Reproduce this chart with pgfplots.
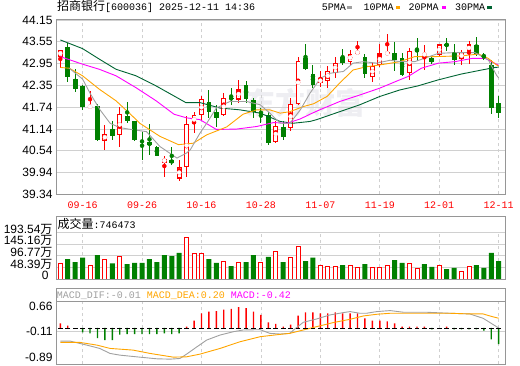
\documentclass[border=0pt]{standalone}
\usepackage{pgfplots}
\pgfplotsset{compat=1.18}
\usepackage{pgfplotstable}
\usepackage{fontspec}
\setmainfont{Liberation Sans}
\setmonofont{Liberation Mono}
\newfontfamily\cjk{Noto Sans CJK SC}
\definecolor{kred}{RGB}{255,0,0}
\definecolor{kgreen}{RGB}{0,128,0}
\definecolor{maA}{RGB}{160,160,160}
\definecolor{maB}{RGB}{255,165,0}
\definecolor{maC}{RGB}{255,0,255}
\definecolor{maD}{RGB}{0,100,50}
\definecolor{framec}{RGB}{150,150,150}
\definecolor{gridc}{RGB}{208,208,208}
\definecolor{wm}{RGB}{238,238,242}
\newcommand{\wan}{{\cjk\fontsize{12}{12}\selectfont 万}}

% red (up) candles: index open high low close
\pgfplotstableread{
i o h l c
0 43.14 43.33 42.82 43.32
4 41.75 42.19 41.74 41.77
6 40.83 41.26 40.55 41.00
8 40.98 41.76 40.64 41.55
14 40.23 40.41 39.83 40.31
16 39.79 40.29 39.72 40.09
17 40.11 41.51 39.83 41.26
18 41.30 41.62 41.03 41.51
19 41.53 42.04 41.40 41.95
22 41.53 42.13 41.50 41.99
24 41.97 42.50 41.85 42.24
29 40.80 41.35 40.75 41.21
31 41.17 41.99 41.10 41.81
32 41.85 43.14 41.81 43.00
35 42.42 42.74 42.31 42.53
36 42.49 42.88 42.28 42.73
37 42.71 43.13 42.54 42.96
39 43.01 43.31 42.91 43.21
40 43.24 43.58 43.22 43.26
42 42.59 43.00 42.45 42.87
43 42.91 43.50 42.86 43.23
44 43.22 43.77 43.19 43.24
47 42.69 43.38 42.50 43.27
49 43.19 43.46 42.78 43.21
51 43.20 43.50 43.14 43.46
54 43.08 43.32 42.92 43.25
55 43.30 43.57 42.93 43.46
}\redk
% green (down) candles
\pgfplotstableread{
i o h l c
1 43.40 43.52 42.45 42.57
2 42.52 42.79 42.15 42.24
3 42.33 42.36 41.67 41.76
5 41.78 41.82 40.82 40.84
7 41.14 41.35 40.83 40.94
9 41.51 41.90 41.30 41.35
10 41.35 41.37 40.80 40.83
11 40.81 41.07 40.29 40.79
12 40.77 41.28 40.43 40.69
13 40.64 40.66 40.40 40.41
15 40.29 40.64 40.16 40.20
20 41.90 42.22 41.44 41.62
21 41.62 41.81 41.21 41.44
23 42.00 42.27 41.81 41.97
25 42.36 42.48 41.85 41.97
26 41.93 41.99 41.44 41.62
27 41.60 41.72 41.30 41.58
28 41.53 41.62 40.69 40.75
30 41.21 41.35 40.83 40.92
33 43.09 43.49 42.77 42.80
34 42.67 42.90 42.28 42.36
38 43.13 43.34 42.91 42.95
41 43.12 43.21 42.54 42.67
45 43.24 43.55 42.75 43.04
46 43.09 43.24 42.60 42.64
48 43.34 43.65 43.02 43.28
50 43.10 43.16 42.94 42.98
52 43.47 43.64 43.29 43.45
53 43.28 43.50 42.90 43.04
56 43.46 43.67 43.17 43.22
57 43.17 43.23 43.05 43.14
58 42.92 43.05 41.55 41.72
59 41.87 42.04 41.44 41.58
}\greenk
% volume (10k shares)
\pgfplotstableread{
i v
0 65.6
4 58.5
6 83.6
8 94.9
17 174.2
18 107.3
19 107.3
22 73.9
24 69.7
27 69.7
29 115.7
31 92.0
32 137.9
35 58.5
36 54.3
37 54.3
39 58.5
40 50.2
42 50.2
43 50.2
44 58.5
47 66.9
48 46.0
51 58.5
54 33.4
55 54.3
}\redv
\pgfplotstableread{
i v
1 83.6
2 71.0
3 89.0
5 100.3
7 65.6
9 62.7
10 66.9
11 66.9
12 83.6
13 71.0
14 100.3
15 96.1
16 108.7
20 83.6
21 66.9
23 54.3
25 71.0
26 100.3
28 92.0
30 71.0
33 75.2
34 89.0
38 58.5
41 62.7
45 79.4
46 66.9
49 62.7
50 50.2
52 41.8
53 46.0
56 58.5
57 46.0
58 108.7
59 74.6
}\greenv
% MACD histogram
\pgfplotstableread{
i m
0 0.14
1 0.07
17 0.04
18 0.22
19 0.44
20 0.49
21 0.50
22 0.55
23 0.57
24 0.62
25 0.59
26 0.49
27 0.39
28 0.17
29 0.12
30 0.04
31 0.10
32 0.37
33 0.47
34 0.47
35 0.44
36 0.44
37 0.47
38 0.44
39 0.44
40 0.44
41 0.29
42 0.22
43 0.22
44 0.20
45 0.14
46 0.04
47 0.04
48 0.04
49 0.04
52 0.04
}\redm
\pgfplotstableread{
i m
3 -0.13
4 -0.16
5 -0.30
6 -0.36
7 -0.36
8 -0.20
9 -0.18
10 -0.18
11 -0.18
12 -0.18
13 -0.18
14 -0.16
15 -0.18
16 -0.16
50 -0.04
53 -0.04
54 -0.04
55 -0.04
56 -0.04
57 -0.08
58 -0.34
59 -0.48
}\greenm

\pgfplotsset{
  panel/.style={
    scale only axis, anchor=south west, width=449pt,
    xmin=-0.58, xmax=59.85,
    axis line style={draw=none},
    major tick length=0pt,
    xtick={3,11,19,27,35,43,51,59},
    xmajorgrids, ymajorgrids,
    x grid style={gridc, line width=0.8pt, dash pattern=on 3pt off 3pt},
    y grid style={gridc, line width=0.8pt},
    tick label style={font=\fontsize{12}{12}\selectfont},
  },
  wick/.style={only marks, mark=none, forget plot,
    error bars/.cd, y dir=both, y explicit, error mark=none,
    error bar style={line width=0.9pt}},
  body/.style={only marks, mark=none, forget plot,
    error bars/.cd, y dir=both, y explicit, error mark=none,
    error bar style={line width=#1}},
}

\begin{document}
\begin{tikzpicture}
\useasboundingbox (0pt,0pt) rectangle (520pt,365pt);
% watermark
\node[text=wm, font=\cjk\bfseries\fontsize{30}{30}\selectfont] at (305pt,262pt) {东方财富};

% ---------------- price panel ----------------
\begin{axis}[panel, at={(56pt,170.7pt)}, height=174.3pt,
  ymin=39.34, ymax=44.15,
  ytick={39.34,39.94,40.54,41.14,41.74,42.35,42.95,43.55,44.15},
  yticklabels={39.34,39.94,40.54,41.14,41.74,42.35,42.95,43.55,44.15},
  xticklabels={09-16,09-26,10-16,10-28,11-07,11-19,12-01,12-11},
  xticklabel style={font=\ttfamily\fontsize{10}{10}\selectfont, text=kred, yshift=-4pt},
]
% green candles
\addplot[kgreen, wick] table[x=i, y expr={(\thisrow{h}+\thisrow{l})/2}, y error expr={(\thisrow{h}-\thisrow{l})/2}] \greenk;
\addplot[kgreen, body=4.8pt] table[x=i, y expr={(\thisrow{o}+\thisrow{c})/2}, y error expr={max(abs(\thisrow{c}-\thisrow{o})/2,0.014)}] \greenk;
% red candles (hollow)
\addplot[kred, wick] table[x=i, y expr={(\thisrow{h}+\thisrow{l})/2}, y error expr={(\thisrow{h}-\thisrow{l})/2}] \redk;
\addplot[kred, body=4.8pt] table[x=i, y expr={(\thisrow{o}+\thisrow{c})/2}, y error expr={abs(\thisrow{c}-\thisrow{o})/2+0.014}] \redk;
\addplot[white, body=2.9pt] table[x=i, y expr={(\thisrow{o}+\thisrow{c})/2}, y error expr={max(abs(\thisrow{c}-\thisrow{o})/2-0.014,0)}] \redk;
% moving averages
\addplot[maD, line width=0.9pt] coordinates {(0,43.60) (3.0,43.36) (5.25,43.07) (7.5,42.79) (10.2,42.61) (12.9,42.33) (16.9,41.87) (18.8,41.87) (21.5,41.72) (24.2,41.67) (26.9,41.58) (29.6,41.35) (31.3,41.30) (33.6,41.35) (34.5,41.40) (37.6,41.62) (40.3,41.81) (43.0,42.04) (45.7,42.22) (48.1,42.33) (50.9,42.50) (54.0,42.66) (56.7,42.77) (58.5,42.84) (59,42.85)};
\addplot[maC, line width=0.9pt] coordinates {(0,43.14) (3.0,42.93) (5.25,42.79) (7.5,42.61) (10.2,42.28) (12.9,41.92) (15.3,41.55) (17.0,41.45) (18.8,41.40) (21.0,41.13) (23.7,41.14) (26.4,41.21) (28.7,41.32) (30.5,41.30) (32.3,41.42) (33.6,41.55) (34.9,41.67) (37.6,41.90) (40.3,42.08) (43.0,42.27) (45.7,42.50) (46.8,42.59) (48.6,42.82) (50.9,42.96) (53.1,43.00) (55.4,43.09) (57.2,43.09) (58.5,42.95) (59,42.90)};
\addplot[maB, line width=0.9pt] coordinates {(0,42.84) (1.2,42.82) (3.0,42.61) (5.25,42.24) (7.5,41.92) (9.7,41.50) (10.7,41.30) (13.4,40.94) (15.9,40.71) (17.9,40.75) (19.7,40.98) (22.4,41.20) (24.6,41.55) (26.4,41.67) (28.2,41.67) (29.6,41.58) (30.9,41.62) (32.7,41.76) (34.1,41.84) (35.9,42.04) (37.6,42.41) (39.4,42.77) (41.2,42.86) (43.0,42.91) (45.7,43.00) (47.7,43.14) (50.4,43.14) (54.0,43.16) (56.3,43.21) (57.6,43.09) (58.7,42.91) (59,42.88)};
\addplot[maA, line width=0.9pt] coordinates {(1.2,42.82) (3.0,42.52) (4.0,42.13) (5.35,41.67) (6.7,41.30) (8.0,41.18) (9.8,41.12) (11.6,41.07) (13.4,40.66) (15.7,40.34) (17.0,40.48) (17.5,40.57) (18.8,41.03) (19.7,41.30) (21.0,41.72) (22.8,41.90) (25.1,41.90) (26.9,41.81) (28.2,41.58) (29.6,41.30) (30.9,41.30) (32.3,41.67) (33.6,42.13) (35.0,42.54) (36.3,42.68) (38.1,42.73) (39.4,42.96) (40.8,43.00) (42.6,42.96) (44.4,43.04) (45.7,43.00) (47.7,43.00) (50.9,43.23) (53.1,43.25) (55.8,43.25) (57.6,43.05) (58.7,42.63) (59,42.55)};
\end{axis}
\draw[framec, line width=1pt] (56pt,170.7pt) rectangle (505pt,345pt);

% ---------------- volume panel ----------------
\begin{axis}[panel, at={(56pt,86pt)}, height=46.3pt,
  ymin=0, ymax=193.54,
  ytick={0,48.39,96.77,145.16,193.54},
  yticklabels={\hspace*{0pt}0\hspace*{4pt},48.39\wan,96.77\wan,145.16\wan,193.54\wan},
  yticklabel style={yshift=3.5pt},
  xticklabels={},
]
\addplot[ybar, bar width=5pt, bar shift=0pt, fill=kgreen, draw=none] table[x=i, y=v] \greenv;
\addplot[ybar, bar width=4pt, bar shift=0pt, fill=white, draw=kred, line width=0.9pt] table[x=i, y=v] \redv;
\end{axis}
\draw[framec, line width=1pt] (56pt,86pt) rectangle (505pt,149pt);
\node[anchor=base west, inner sep=0pt] at (57.3pt,136.7pt) {{\cjk\fontsize{12}{12}\selectfont 成交量}{\ttfamily\fontsize{10}{10}\selectfont :746473}};

% ---------------- MACD panel ----------------
\begin{axis}[panel, at={(56pt,1pt)}, height=62.3pt,
  ymin=-1.075, ymax=0.785,
  ymajorgrids=false,
  ytick={0.66,-0.89}, yticklabels={0.66,-0.89},
  extra y ticks={-0.11}, extra y tick labels={-0.11},
  extra y tick style={ymajorgrids=true, xmajorgrids=false},
  xticklabels={},
]
\addplot[only marks, mark=-, mark size=2.4pt, mark options={black, line width=0.9pt}] table[x=i, y expr=0] {
i
0
1
2
3
4
5
6
7
8
9
10
11
12
13
14
15
16
17
18
19
20
21
22
23
24
25
26
27
28
29
30
31
32
33
34
35
36
37
38
39
40
41
42
43
44
45
46
47
48
49
50
51
52
53
54
55
56
57
58
59
};
\addplot[ybar, bar width=1.4pt, bar shift=0pt, fill=kred, draw=none] table[x=i, y=m] \redm;
\addplot[ybar, bar width=1.4pt, bar shift=0pt, fill=kgreen, draw=none] table[x=i, y=m] \greenm;
\addplot[maA, line width=0.9pt] coordinates {(0,-0.39) (1.3,-0.39) (3.55,-0.51) (5.3,-0.61) (6.7,-0.76) (8.0,-0.81) (10.7,-0.87) (13.0,-0.92) (14.8,-0.93) (16.1,-0.91) (17.0,-0.78) (18.4,-0.56) (19.7,-0.36) (21.5,-0.21) (23.3,-0.11) (24.6,-0.06) (26.9,-0.05) (28.2,-0.16) (29.6,-0.18) (30.9,-0.16) (31.5,-0.04) (32.7,0.17) (34.5,0.27) (36.3,0.39) (38.1,0.46) (39.0,0.49) (40.3,0.44) (41.2,0.44) (42.6,0.49) (44.4,0.52) (46.2,0.47) (49.3,0.47) (52.4,0.44) (55.1,0.42) (56.9,0.29) (59,0.0)};
\addplot[maB, line width=0.9pt] coordinates {(0,-0.43) (2.65,-0.43) (4.9,-0.51) (6.7,-0.61) (9.8,-0.66) (12.1,-0.76) (15.2,-0.87) (17.0,-0.86) (18.8,-0.78) (21.5,-0.61) (24.2,-0.41) (26.9,-0.26) (29.6,-0.19) (30.9,-0.16) (32.7,-0.06) (34.5,0.04) (36.7,0.16) (39.0,0.26) (40.8,0.36) (42.6,0.41) (44.4,0.44) (48.0,0.44) (52.4,0.44) (55.1,0.42) (56.9,0.42) (57.8,0.36) (59,0.29)};
\end{axis}
\draw[framec, line width=1pt] (56pt,1pt) rectangle (505pt,77pt);
\draw[framec, line width=1pt] (56pt,63.3pt) -- (505pt,63.3pt);
\node[anchor=base west, inner sep=0pt, font=\ttfamily\fontsize{10}{10}\selectfont] at (56.7pt,66.7pt) {\textcolor{maA}{MACD\_DIF:-0.01} \textcolor{maB}{MACD\_DEA:0.20} \textcolor{maC}{MACD:-0.42}};

% ---------------- header ----------------
\node[anchor=base west, inner sep=0pt] at (57pt,354pt) {{\cjk\fontsize{12}{12}\selectfont 招商银行}{\ttfamily\fontsize{10}{10}\selectfont [600036] 2025-12-11 14:36}};
\begin{scope}[font=\ttfamily\fontsize{10}{10}\selectfont]
\node[anchor=base west, inner sep=0pt] at (321.7pt,354pt) {5PMA};
\fill[maA] (347pt,356.3pt) rectangle (351.5pt,359.3pt);
\node[anchor=base west, inner sep=0pt] at (363.3pt,354pt) {10PMA};
\fill[maB] (395.7pt,356.3pt) rectangle (400.2pt,359.3pt);
\node[anchor=base west, inner sep=0pt] at (408.3pt,354pt) {20PMA};
\fill[maC] (441.7pt,356.3pt) rectangle (446.2pt,359.3pt);
\node[anchor=base west, inner sep=0pt] at (455pt,354pt) {30PMA};
\fill[maD] (487.3pt,356.3pt) rectangle (491.8pt,359.3pt);
\end{scope}
\end{tikzpicture}
\end{document}
